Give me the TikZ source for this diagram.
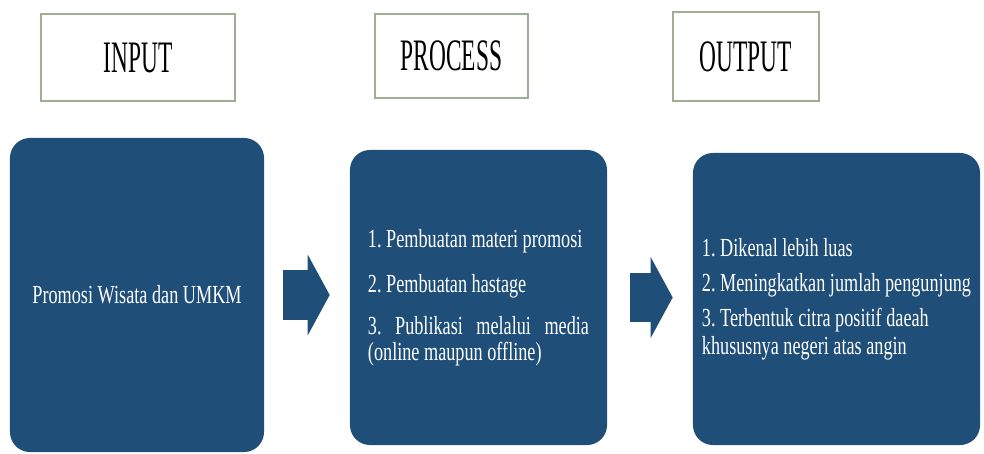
\documentclass[tikz,border=0pt]{standalone}
\usepackage{fontspec}
\setmainfont{Liberation Serif}[FakeStretch=0.7]
\newfontfamily\headfont{Liberation Serif}[FakeStretch=0.52]
\usetikzlibrary{arrows.meta}
\definecolor{blockBlue}{RGB}{31,78,121}
\definecolor{headBorder}{RGB}{160,174,146}
\setlength{\parindent}{0pt}
\hyphenpenalty=10000
\frenchspacing
\tikzset{
    header/.style={draw=headBorder, line width=1pt, fill=white, rectangle, font=\headfont\fontsize{32}{36}\selectfont, inner sep=0pt, align=center},
    block/.style={fill=blockBlue, rectangle, rounded corners=0.5cm, text=white, font=\fontsize{18.5}{18.5}\selectfont, inner sep=0pt},
    bigArrow/.style={draw=blockBlue, line width=1.225cm, -{Triangle[length=0.55cm, width=2cm]}},
}

\begin{document}
\begin{tikzpicture}[x=0.025cm, y=-0.025cm]
\useasboundingbox (0,0) rectangle (984,453);

\node[header, minimum width=4.85cm, minimum height=2.175cm] (inHead) at (138,57.5) {INPUT};
\node[header, minimum width=3.825cm, minimum height=2.1cm] (procHead) at (451.5,56) {PROCESS};
\node[header, minimum width=3.65cm, minimum height=2.225cm] (outHead) at (746,56.5) {OUTPUT};

\node[block, minimum width=6.35cm, minimum height=7.85cm] (inBlock) at (137,295) {Promosi Wisata dan UMKM};
\node[block, minimum width=6.425cm, minimum height=7.375cm, text width=5.525cm, align=justify] (procBlock) at (478.5,297.5) {1. Pembuatan materi promosi\par\vspace{14pt}
2. Pembuatan hastage\par\vspace{11pt}
3. Publikasi melalui media (online maupun offline)};
\node[block, minimum width=7.175cm, minimum height=7.3cm, align=left] (outBlock) at (836.5,299) {1. Dikenal lebih luas\\[6.4pt]
2. Meningkatkan jumlah pengunjung\\[6.4pt]
3. Terbentuk citra positif daeah\\[1.4pt]
khususnya negeri atas angin};

\draw[bigArrow, shorten <=0.475cm, shorten >=0.5cm] (inBlock.east) -- (inBlock.east -| procBlock.west);
\draw[bigArrow, shorten <=0.575cm, shorten >=0.5cm] (procBlock.east) -- (procBlock.east -| outBlock.west);

\end{tikzpicture}
\end{document}
